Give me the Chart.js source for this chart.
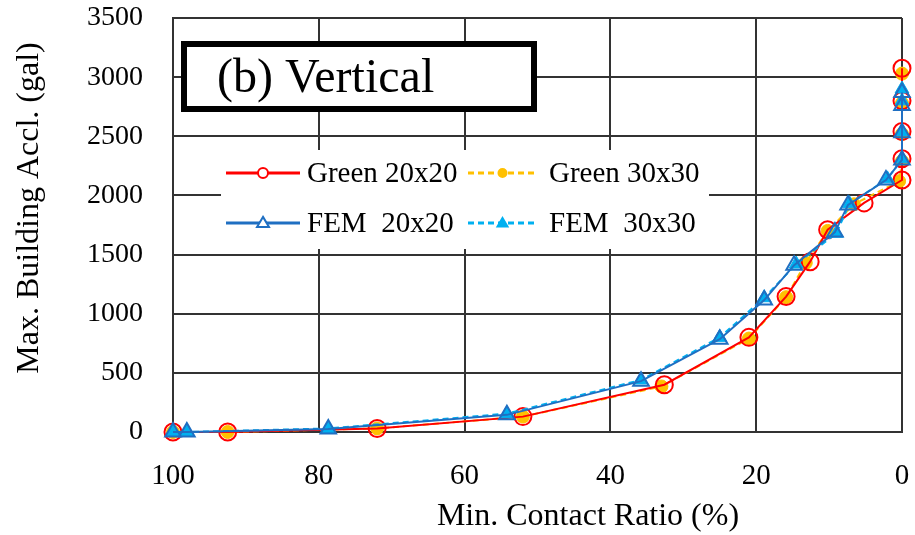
<!DOCTYPE html>
<html>
<head>
<meta charset="utf-8">
<title>(b) Vertical</title>
<script src="https://cdn.jsdelivr.net/npm/chart.js@4.4.1/dist/chart.umd.min.js"></script>
<style>
    html, body { margin: 0; padding: 0; background: #ffffff; }
    #chart { display: block; }
</style>
</head>
<body>
<canvas id="chart" width="915" height="535"></canvas>
<script>
// Datos: razon de contacto minima (%) vs aceleracion maxima (gal)
const seriesLabels = ['Green 20x20', 'Green 30x30', 'FEM  20x20', 'FEM  30x30'];

const green20Ratio = [100, 92.5, 72.0, 52.0, 32.6, 21.0, 15.9, 12.6, 10.2, 5.2, 0, 0, 0, 0, 0];
const green20Accel = [0, 0, 30, 130, 400, 800, 1145, 1440, 1710, 1937, 2130, 2310, 2540, 2800, 3075];

const green30Ratio = [100, 92.5, 72.0, 52.0, 33.0, 21.0, 15.9, 13.2, 10.2, 6.6, 0.4, 0, 0, 0, 0];
const green30Accel = [0, 0, 30, 130, 385, 790, 1140, 1430, 1700, 1925, 2120, 2290, 2520, 2780, 3030];

const fem20Ratio = [100, 98.1, 78.7, 54.2, 35.8, 25.0, 18.9, 14.8, 9.2, 7.4, 2.2, 0, 0, 0, 0];
const fem20Accel = [0, 0, 25, 145, 430, 785, 1115, 1410, 1690, 1920, 2130, 2300, 2530, 2760, 2870];

const fem30Ratio = [100, 98.1, 78.7, 54.2, 35.8, 25.0, 18.9, 14.5, 9.0, 7.2, 2.0, 0, 0, 0, 0];
const fem30Accel = [0, 0, 30, 155, 440, 800, 1135, 1420, 1680, 1930, 2140, 2310, 2540, 2800, 2900];

const xTicks = [0, 20, 40, 60, 80, 100];
const yTicks = [0, 500, 1000, 1500, 2000, 2500, 3000, 3500];

const xTitle = 'Min. Contact Ratio (%)';
const yTitle = 'Max. Building Accl. (gal)';
const chartTitle = '(b) Vertical';

const SERIF = "'Liberation Serif', 'Times New Roman', serif";

function toPoints(xs, ys) {
    return xs.map((x, i) => ({ x: x, y: ys[i] }));
}

// Titulos de ejes, cuadro de titulo y leyenda con muestra de linea + marcador
const boxesPlugin = {
    id: 'boxes',
    afterDraw: function(chart) {
        const ctx = chart.ctx;
        ctx.save();

        // titulos de ejes (algo desplazados respecto al centro, como en el original)
        ctx.fillStyle = '#000000';
        ctx.font = '32px ' + SERIF;
        ctx.textAlign = 'center';
        ctx.textBaseline = 'alphabetic';
        ctx.fillText(xTitle, 588, 525);

        ctx.save();
        ctx.translate(38, 208);
        ctx.rotate(-Math.PI / 2);
        ctx.fillText(yTitle, 0, 0);
        ctx.restore();

        // titulo
        ctx.fillStyle = '#ffffff';
        ctx.fillRect(184, 44, 350, 65);
        ctx.lineWidth = 6;
        ctx.strokeStyle = '#000000';
        ctx.strokeRect(184, 44, 350, 65);
        ctx.fillStyle = '#000000';
        ctx.font = '48px ' + SERIF;
        ctx.textAlign = 'left';
        ctx.fillText(chartTitle, 217, 92);

        // leyenda
        ctx.fillStyle = '#ffffff';
        ctx.fillRect(221, 150, 488, 99);

        const slots = [
            { ds: 0, x1: 226, x2: 300, y: 173, tx: 307, r: 5 },
            { ds: 1, x1: 468, x2: 537, y: 173, tx: 549, r: 4 },
            { ds: 2, x1: 226, x2: 300, y: 223, tx: 307, r: 6 },
            { ds: 3, x1: 468, x2: 537, y: 223, tx: 549, r: 5 }
        ];
        slots.forEach(s => {
            const d = chart.data.datasets[s.ds];
            ctx.beginPath();
            ctx.setLineDash(d.borderDash || []);
            ctx.lineWidth = 3;
            ctx.strokeStyle = d.borderColor;
            ctx.moveTo(s.x1, s.y);
            ctx.lineTo(s.x2, s.y);
            ctx.stroke();
            ctx.setLineDash([]);

            const mx = (s.x1 + s.x2) / 2;
            ctx.beginPath();
            if (d.pointStyle === 'triangle') {
                const h = s.r * 1.7;
                ctx.moveTo(mx, s.y - h * 0.6);
                ctx.lineTo(mx + s.r, s.y + h * 0.4);
                ctx.lineTo(mx - s.r, s.y + h * 0.4);
                ctx.closePath();
            } else {
                ctx.arc(mx, s.y, s.r, 0, Math.PI * 2);
            }
            ctx.fillStyle = d.pointBackgroundColor === 'transparent' ? '#ffffff' : d.pointBackgroundColor;
            ctx.fill();
            ctx.lineWidth = 2;
            ctx.strokeStyle = d.pointBorderColor;
            ctx.stroke();

            ctx.fillStyle = '#000000';
            ctx.font = '29px ' + SERIF;
            ctx.textBaseline = 'middle';
            ctx.fillText(d.label, s.tx, s.y + 1);
        });

        ctx.restore();
    }
};

new Chart(document.getElementById('chart'), {
    type: 'scatter',
    data: {
        datasets: [
            {
                label: seriesLabels[0],
                data: toPoints(green20Ratio, green20Accel),
                showLine: true,
                borderColor: '#ff0000',
                borderWidth: 2,
                pointStyle: 'circle',
                pointRadius: 8.5,
                pointBorderWidth: 2,
                pointBorderColor: '#ff0000',
                pointBackgroundColor: 'transparent',
                clip: false,
                order: 3
            },
            {
                label: seriesLabels[1],
                data: toPoints(green30Ratio, green30Accel),
                showLine: true,
                borderColor: '#ffc000',
                borderWidth: 2,
                borderDash: [6, 4],
                pointStyle: 'circle',
                pointRadius: 6.5,
                pointBorderWidth: 1,
                pointBorderColor: '#ffc000',
                pointBackgroundColor: '#ffc000',
                clip: false,
                order: 4
            },
            {
                label: seriesLabels[2],
                data: toPoints(fem20Ratio, fem20Accel),
                showLine: true,
                borderColor: '#1f6fc2',
                borderWidth: 2,
                pointStyle: 'triangle',
                pointRadius: 9,
                pointBorderWidth: 2,
                pointBorderColor: '#1f6fc2',
                pointBackgroundColor: 'transparent',
                clip: false,
                order: 1
            },
            {
                label: seriesLabels[3],
                data: toPoints(fem30Ratio, fem30Accel),
                showLine: true,
                borderColor: '#00b0f0',
                borderWidth: 2,
                borderDash: [6, 4],
                pointStyle: 'triangle',
                pointRadius: 8,
                pointBorderWidth: 1,
                pointBorderColor: '#00b0f0',
                pointBackgroundColor: '#00b0f0',
                clip: false,
                order: 2
            }
        ]
    },
    options: {
        responsive: false,
        animation: false,
        layout: { padding: { top: 18, right: 13, left: 0, bottom: 0 } },
        plugins: {
            legend: { display: false },
            tooltip: { enabled: false }
        },
        scales: {
            x: {
                type: 'linear',
                reverse: true,
                min: 0,
                max: 100,
                afterFit: function(scale) {
                    scale.height = 103;
                    scale.paddingLeft = 0;
                    scale.paddingRight = 0;
                },
                afterBuildTicks: function(scale) { scale.ticks = xTicks.map(v => ({ value: v })); },
                grid: { color: '#333333', lineWidth: 2, drawTicks: false },
                border: { color: '#333333', width: 2 },
                ticks: {
                    padding: 27,
                    color: '#000000',
                    font: { family: SERIF, size: 29 },
                    callback: v => String(v)
                }
            },
            y: {
                type: 'linear',
                min: 0,
                max: 3500,
                afterFit: function(scale) {
                    scale.width = 173;
                    scale.paddingTop = 0;
                    scale.paddingBottom = 0;
                },
                afterBuildTicks: function(scale) { scale.ticks = yTicks.map(v => ({ value: v })); },
                grid: { color: '#333333', lineWidth: 2, drawTicks: false },
                border: { color: '#333333', width: 2 },
                ticks: {
                    padding: 30,
                    color: '#000000',
                    font: { family: SERIF, size: 28 },
                    callback: v => String(v)
                }
            }
        }
    },
    plugins: [boxesPlugin]
});
</script>
</body>
</html>
